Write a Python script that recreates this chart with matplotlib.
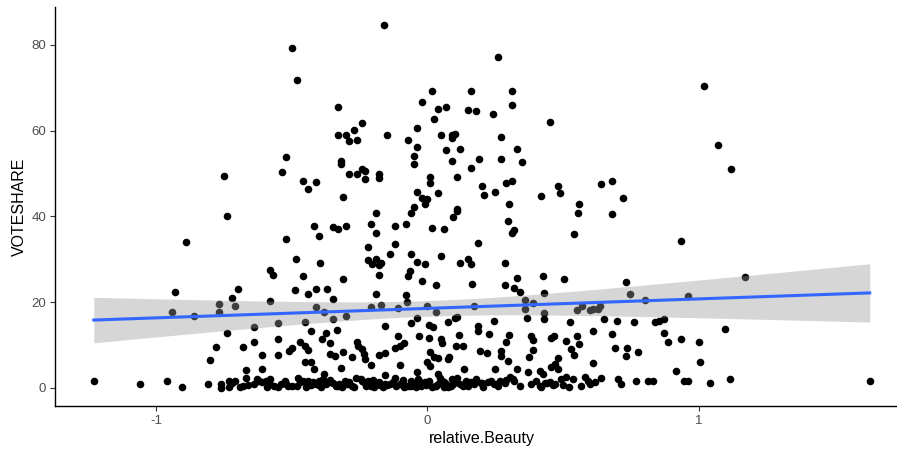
import numpy as np
import matplotlib
matplotlib.use("Agg")
import matplotlib.pyplot as plt

plt.rcParams['font.family'] = ['Liberation Sans', 'DejaVu Sans']

# ---- data (relative.Beauty, VOTESHARE) ----
beauty_high = [-0.75, -0.16, -0.50, -0.48, 0.015, 0.16, -0.02, -0.33, 0.04, 0.07, 0.15, 0.18,
               0.025, -0.24, -0.27, -0.33, -0.30, -0.29, -0.26, -0.15, -0.04, -0.07, -0.04, 0.05,
               0.09, 0.10, 0.09, 0.07, 0.12, -0.05, -0.05, 0.09, 0.16, 0.11, -0.52, -0.535, -0.46,
               -0.41, -0.44, -0.32, -0.32, -0.29, -0.26, -0.24, -0.23, -0.23, -0.18, -0.18, -0.31,
               0.01, 0.01, 0.04, -0.04, -0.02, 0.0, -0.01, -0.05, 0.11,
               0.26, 0.31, 0.31, 0.24, 0.45, 0.27, 0.33, 0.19, 0.27, 0.35, 0.20, 0.21, 0.25, 0.29,
               0.31, 0.30, 0.42, 0.48, 0.49, 0.56, 0.64, 0.68, 0.72, 1.02, 1.07, 1.12]
vote_high = [49.5, 84.7, 79.4, 71.9, 69.2, 69.2, 66.6, 65.5, 65.1, 65.6, 64.8, 64.5,
             62.7, 61.7, 60.1, 59.0, 59.0, 57.5, 57.8, 59.0, 60.6, 57.8, 56.1, 58.9,
             59.0, 59.2, 58.2, 55.6, 55.8, 54.2, 52.3, 52.9, 51.2, 49.2, 53.9, 50.3, 48.3,
             48.0, 46.3, 52.2, 52.9, 50.0, 49.8, 51.0, 50.5, 48.8, 49.8, 48.9, 44.6,
             49.2, 47.9, 45.4, 45.7, 44.4, 44.0, 42.9, 42.1, 41.8,
             77.1, 69.3, 66.0, 64.0, 62.0, 58.6, 55.8, 53.3, 53.3, 52.6, 47.0, 44.9, 45.8, 47.9,
             48.3, 43.0, 44.7, 47.2, 45.5, 43.0, 47.5, 48.3, 44.2, 70.5, 56.6, 51.1]

beauty_mid = [-0.74, -0.89, -0.93, -0.70, -0.72, -0.77, -0.71, -0.94, -0.86, -0.77,
              -0.19, -0.06, 0.11, -0.42, -0.35, -0.33, -0.30, -0.40, -0.52, -0.21, -0.19, -0.12,
              -0.08, 0.015, 0.06, 0.095, -0.22, -0.12, -0.14, -0.06, 0.05, -0.485, -0.395, -0.22,
              -0.205, -0.19, -0.17, -0.18, -0.04, -0.01, 0.12, 0.15, 0.16, -0.58, -0.57, -0.46,
              -0.31, -0.18, -0.065, -0.07, -0.02, 0.03, -0.49, -0.44, -0.41, -0.37, -0.35, -0.19,
              -0.08, -0.075, -0.58, -0.41, -0.38, -0.35, -0.30, -0.21, -0.17, -0.11, 0.0, 0.03,
              -0.04, 0.11, 0.10, 0.17,
              0.185, 0.295, 0.32, 0.31, 0.555, 0.68, 0.54, 0.935, 0.285, 0.165, 0.285, 0.33, 0.32,
              0.34, 0.425, 0.505, 0.43, 0.73, 0.745, 0.80, 0.36, 0.39, 0.36, 0.43, 0.55, 0.57,
              0.60, 0.61, 0.63, 0.635, 1.17, 0.96, 1.095]
vote_mid = [40.1, 34.1, 22.3, 23.0, 20.9, 19.5, 19.0, 17.7, 16.7, 17.7,
            40.9, 40.8, 41.3, 37.8, 37.6, 37.1, 37.8, 35.4, 34.7, 38.3, 36.1, 37.7,
            38.3, 37.3, 37.0, 39.8, 32.9, 33.6, 31.2, 31.3, 30.8, 30.0, 29.2, 29.8,
            29.0, 30.0, 29.2, 28.6, 29.4, 28.8, 29.2, 30.0, 28.8, 27.5, 26.3, 26.1,
            25.3, 26.4, 27.3, 26.1, 25.0, 24.1, 22.9, 22.0, 23.1, 23.1, 20.8, 21.8,
            21.6, 20.1, 20.3, 18.8, 17.6, 16.0, 16.8, 18.9, 19.3, 18.6, 19.1, 17.8,
            16.4, 16.6, 16.2, 19.1,
            33.7, 39.0, 36.8, 36.2, 40.9, 40.6, 36.0, 34.2, 29.2, 24.3, 24.1, 25.6, 23.3,
            22.3, 26.1, 25.5, 22.1, 24.6, 22.0, 20.4, 20.5, 19.9, 18.4, 17.4, 18.1, 19.2,
            18.1, 18.5, 18.5, 19.1, 25.8, 21.5, 13.8]

beauty_low = [-0.64, -0.74, -0.64, -0.78, -0.68, -0.61, -0.80, -0.67, -0.61, -1.23, -1.06,
              -0.96, -0.905, -0.81, -0.76, -0.76, -0.73, -0.73, -0.71, -0.69, -0.68, -0.67,
              -0.64, -0.63, -0.62, -0.61,
              -0.55, -0.45, -0.155, -0.06, 0.005, 0.02, 0.075, -0.43, -0.375, -0.335, -0.55,
              -0.47, -0.45, -0.39, -0.36, -0.26, -0.255, -0.11, -0.03, 0.005, 0.05, 0.055, 0.115,
              0.105, 0.13, -0.085, -0.10, -0.12, -0.55, -0.51, -0.50, -0.44, -0.36, -0.34, -0.31,
              -0.28, -0.24, -0.235, -0.23, -0.18, -0.155, 0.01, 0.025, 0.04, 0.075, 0.08, -0.45,
              -0.43, -0.42, -0.32, -0.21, -0.10, 0.0, 0.01, -0.38, -0.155, -0.04, 0.04, 0.135,
              0.245, 0.365, 0.43, 0.525, 0.65, 0.70, 0.76, 0.84, 0.855, 0.87, 0.185, 0.185, 0.225,
              0.30, 0.29, 0.38, 0.39, 0.465, 0.455, 0.51, 0.55, 0.56, 0.61, 0.68, 0.87, 0.885,
              0.935, 0.195, 0.22, 0.27, 0.27, 0.295, 0.39, 0.375, 0.53, 0.54, 0.69, 0.735, 0.73,
              0.775, 0.48, 0.47, 0.455, 0.48, 0.61, 0.25, 0.33, 0.37, 0.415, 0.425, 0.915, 0.34,
              1.0, 1.005, 0.96, 1.04, 1.115, 1.63]
vote_low = [14.2, 12.9, 10.8, 9.5, 9.6, 7.6, 6.4, 4.2, 4.3, 1.6, 0.8,
            1.6, 0.3, 0.9, 0.8, 0.0, 0.2, 1.6, 1.6, 0.2, 0.4, 2.2,
            0.8, 2.0, 1.5, 1.4,
            15.1, 15.4, 14.5, 15.1, 14.7, 14.1, 15.3, 13.3, 12.8, 13.6, 11.4,
            10.8, 9.7, 11.4, 10.5, 10.8, 9.8, 12.0, 12.2, 11.6, 11.4, 10.5, 12.3,
            9.8, 9.8, 10.5, 9.8, 9.2, 7.7, 8.7, 9.2, 8.9, 7.9, 7.5, 8.3,
            7.1, 9.1, 7.9, 6.7, 7.7, 8.1, 8.3, 7.3, 6.9, 6.7, 7.3, 6.1,
            6.0, 4.3, 4.6, 5.4, 5.4, 6.1, 5.2, 3.3, 3.0, 3.6, 3.3, 4.4,
            15.7, 16.3, 16.0, 15.3, 16.0, 15.7, 15.4, 15.4, 15.7, 16.0, 14.5, 13.3, 12.6,
            12.3, 10.8, 12.0, 11.2, 12.2, 11.6, 11.0, 12.0, 10.2, 13.3, 12.6, 12.9, 10.8,
            11.4, 8.7, 8.1, 8.7, 7.5, 6.2, 8.9, 7.1, 9.1, 7.7, 9.4, 9.2, 7.4,
            8.4, 6.9, 5.6, 4.8, 4.3, 5.8, 4.4, 4.3, 3.8, 4.0, 3.3, 3.9, 0.5,
            10.8, 6.1, 1.5, 1.2, 2.0, 1.6]

beauty_floor = [-0.595, -0.583, -0.565, -0.550, -0.525, -0.515, -0.479, -0.469, -0.448, -0.423,
                -0.411, -0.399, -0.386, -0.374, -0.362, -0.325, -0.316, -0.304, -0.288, -0.279,
                -0.245, -0.235, -0.220, -0.210, -0.196, -0.183, -0.165, -0.156, -0.128, -0.116,
                -0.100, -0.085, -0.070, -0.060, -0.050, -0.036, -0.023, -0.011, 0.007, 0.026,
                0.038, 0.053, 0.069, 0.075, 0.087, 0.100, 0.118, 0.130, 0.143, 0.159, 0.171,
                0.180, 0.198, 0.223, 0.235, 0.253, 0.266, 0.284, 0.303, 0.315, 0.401, 0.413,
                0.432, 0.450, 0.463, 0.493, 0.512, 0.536, 0.567, 0.579, 0.592, 0.616, 0.641,
                0.702, 0.715, 0.770, 0.813, 0.832, 0.946,
                -0.590, -0.540, -0.500, -0.460, -0.430, -0.392, -0.350, -0.338, -0.296, -0.262,
                -0.228, -0.200, -0.175, -0.140, -0.092, -0.078, -0.044, -0.005, 0.015, 0.046,
                0.060, 0.094, 0.110, 0.150, 0.205, 0.245, 0.290, 0.420, 0.470, 0.520, 0.600,
                -0.72, -0.66, -0.58, -0.52, -0.48, -0.44, -0.40, -0.36, -0.33, -0.30,
                -0.27, -0.24, -0.21, -0.18, -0.15, -0.12, -0.09, -0.06, -0.03, 0.0,
                0.03, 0.06, 0.09, 0.14, 0.20, 0.26, 0.32, 0.38, 0.44, 0.50]
vote_floor = [1.7, 1.3, 0.5, 0.2, 1.7, 0.5, 2.3, 1.3, 0.2, 1.3,
              0.9, 1.7, 2.1, 0.9, 1.3, 0.9, 0.2, 1.7, 1.3, 0.5,
              2.1, 1.3, 1.7, 0.5, 0.2, 0.9, 0.2, 0.9, 1.3, 0.5,
              0.9, 0.2, 0.5, 1.7, 0.9, 2.1, 0.5, 1.3, 1.7, 0.5,
              0.9, 1.7, 0.9, 0.2, 0.5, 1.3, 0.9, 0.5, 1.7, 1.3, 0.9,
              2.1, 1.2, 1.4, 1.7, 0.9, 1.5, 1.2, 2.5, 2.0, 1.7, 0.5,
              1.2, 1.4, 0.7, 2.1, 2.5, 2.0, 0.5, 2.5, 1.7, 1.4, 2.3,
              2.0, 0.9, 1.7, 1.5, 1.7, 1.7,
              0.3, 1.0, 0.4, 1.6, 0.6, 0.3, 1.1, 0.4, 0.8, 2.4,
              0.4, 1.9, 0.6, 1.0, 1.9, 0.4, 0.3, 0.6, 0.3, 2.4,
              0.3, 0.8, 2.2, 0.4, 0.3, 0.9, 1.9, 0.3, 1.0, 0.3, 0.8,
              1.1, 0.6, 2.0, 0.9, 0.4, 1.5, 0.7, 1.8, 0.5, 1.2,
              0.3, 1.6, 0.8, 1.4, 0.6, 2.2, 1.0, 0.4, 1.7, 0.9,
              0.5, 1.3, 2.0, 0.7, 1.1, 0.4, 1.5, 0.9, 1.2, 0.6]

x = np.array(beauty_high + beauty_mid + beauty_low + beauty_floor)
y = np.array(vote_high + vote_mid + vote_low + vote_floor)

# ---- linear fit with 95% confidence band (like geom_smooth(method="lm")) ----
n = len(x)
xbar = x.mean()
Sxx = ((x - xbar) ** 2).sum()
slope = ((x - xbar) * (y - y.mean())).sum() / Sxx
intercept = y.mean() - slope * xbar
resid = y - (intercept + slope * x)
s = np.sqrt((resid ** 2).sum() / (n - 2))
tcrit = 1.965
xg = np.linspace(x.min(), x.max(), 80)
yg = intercept + slope * xg
se = s * np.sqrt(1.0 / n + (xg - xbar) ** 2 / Sxx)

fig = plt.figure(figsize=(8.97, 4.5), dpi=100)
ax = fig.add_axes([55 / 897, 44 / 450, (908.5 - 55) / 897, (406 - 6.7) / 450])

ax.scatter(x, y, s=30, color='black', linewidths=0, zorder=2)
ax.fill_between(xg, yg - tcrit * se, yg + tcrit * se, color='#999999', alpha=0.4,
                linewidth=0, zorder=3)
ax.plot(xg, yg, color='#3366FF', linewidth=2.2, zorder=4)

xr = x.max() - x.min()
yr = y.max() - y.min()
ax.set_xlim(x.min() - 0.05 * xr, x.max() + 0.05 * xr)
ax.set_ylim(y.min() - 0.05 * yr, y.max() + 0.05 * yr)

ax.set_xticks([-1, 0, 1])
ax.set_xticklabels(['-1', '0', '1'])
ax.set_yticks([0, 20, 40, 60, 80])

for side in ['top', 'right']:
    ax.spines[side].set_visible(False)
for side in ['left', 'bottom']:
    ax.spines[side].set_color('black')
    ax.spines[side].set_linewidth(1.0)
ax.tick_params(axis='both', length=3.5, width=0.8, color='#333333',
               labelcolor='#4D4D4D', labelsize=9.5, pad=3)

ax.set_xlabel('relative.Beauty', fontsize=11.5, color='black', labelpad=3)
ax.set_ylabel('VOTESHARE', fontsize=11.5, color='black', labelpad=3)

fig.savefig('out.png', dpi=100)
